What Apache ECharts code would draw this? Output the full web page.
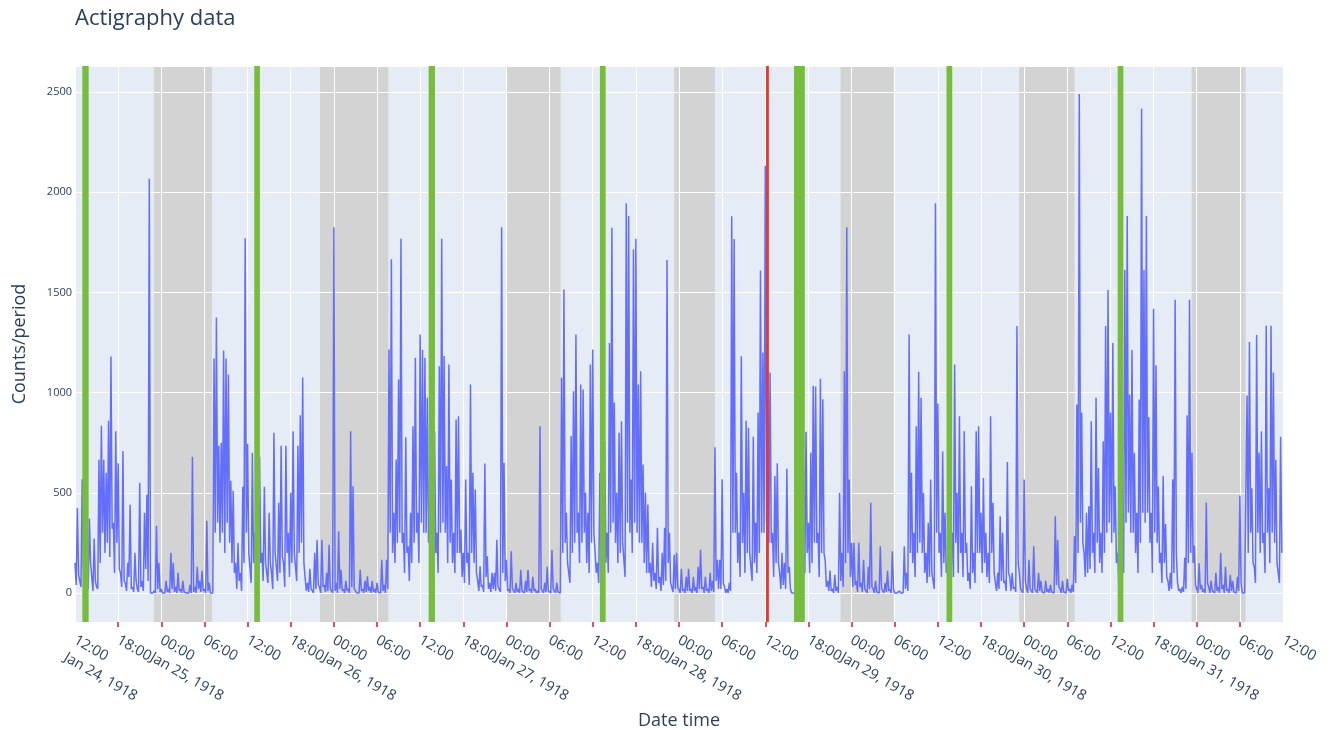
<!DOCTYPE html>
<html>
<head>
<meta charset="utf-8">
<script src="https://cdn.jsdelivr.net/npm/echarts@6/dist/echarts.min.js"></script>
<style>
html,body{margin:0;padding:0;background:#fff;}
#chart{width:1334px;height:730px;}
</style>
</head>
<body>
<div id="chart"></div>
<script>
// ---- data ----
const startUTC = Date.UTC(1918, 0, 24, 12);   // first sample, Jan 24 1918 12:00
const endUTC = Date.UTC(1918, 0, 31, 12);
const stepMinutes = 20;                          // one peak + one trough per 20 minutes
// counts at the start of each 20-minute slot
const peakCounts = [
150,424,60,567,150,260,370,80,272,30,
665,834,665,600,860,1180,350,807,647,100,
709,50,150,440,30,200,20,550,60,400,
490,2067,0,10,335,150,20,0,60,20,
200,150,30,100,20,60,10,0,40,680,
30,130,60,110,20,360,50,0,1170,1375,
735,750,1210,1170,1090,560,510,150,250,100,
530,1770,745,200,700,300,700,680,200,530,
150,400,100,800,200,450,735,150,735,300,
500,807,200,735,887,1075,157,50,120,20,
200,266,30,266,40,100,240,20,1825,50,
308,116,20,60,20,807,533,10,0,116,
20,60,83,30,60,20,50,10,166,40,
166,1215,1665,400,666,1065,1768,300,777,233,
400,832,1174,400,1290,1212,1174,974,450,17,
807,300,1132,1768,1182,633,1140,566,300,866,
882,316,200,566,200,1040,600,516,60,133,
40,646,183,50,100,100,266,30,1825,650,
166,20,208,10,50,20,116,10,60,116,
20,80,20,10,832,20,50,130,10,216,
20,50,10,1074,1515,400,150,783,1007,1290,
400,1040,1015,500,400,1140,1215,300,150,600,
0,757,300,1248,1823,950,500,799,857,250,
1945,1881,566,1715,1768,1040,1107,641,500,441,
150,250,100,325,80,200,325,1662,300,50,
191,200,30,120,20,80,120,20,80,30,
130,216,30,80,20,100,60,727,165,165,
567,30,20,50,1880,1766,600,300,1181,500,
860,825,200,780,350,900,1609,1200,2131,1110,
1100,300,584,647,100,200,150,620,130,0,
0,0,0,20,620,804,350,700,1034,1030,
300,1069,967,160,60,112,20,90,30,500,
200,1107,1825,566,250,250,60,250,50,166,
20,130,450,20,60,10,233,20,50,110,
20,208,0,0,10,0,233,100,1290,600,
300,832,1104,974,500,200,350,566,60,1945,
945,300,707,400,150,0,300,1140,500,882,
300,807,250,100,533,200,807,832,400,574,
300,200,882,450,50,100,383,300,60,654,
80,100,30,1332,100,10,566,20,166,10,
233,20,100,60,10,60,20,40,10,383,
266,20,60,10,70,20,40,283,940,2490,
900,200,400,433,857,300,974,624,300,757,
1332,1512,900,1248,533,200,10,400,1612,1881,
990,1212,700,400,965,2417,1612,1881,878,400,
1418,1137,531,200,584,344,60,100,567,1463,
50,20,30,175,887,1463,700,237,20,148,
40,20,451,30,60,10,100,30,201,40,
130,20,90,60,10,80,486,0,0,985,
1253,522,130,1288,700,807,300,1333,522,1333,
1100,665,150,780
];
// counts 10 minutes into each 20-minute slot (the dips between spikes)
const troughCounts = [
40,90,30,120,60,20,150,10,60,20,
150,300,200,250,180,320,100,250,120,30,
60,10,80,20,5,60,5,30,10,120,
60,0,0,0,20,5,0,0,5,0,
20,5,0,10,0,5,0,0,0,5,
0,20,5,10,0,10,0,0,300,350,
250,300,200,350,250,150,100,20,60,10,
150,300,200,50,150,80,200,150,60,150,
50,150,20,200,60,100,180,30,200,80,
150,200,60,200,250,150,10,5,20,0,
20,40,0,30,5,10,20,0,10,0,
20,10,0,10,0,30,20,0,0,10,
0,5,10,0,5,0,5,0,10,0,
20,300,200,150,250,300,250,100,200,60,
150,250,300,150,350,300,300,250,100,0,
200,100,300,350,300,150,250,150,100,200,
200,80,50,150,40,200,150,100,10,30,
5,80,20,5,20,10,30,5,100,60,
10,0,20,0,5,0,10,0,5,10,
0,10,0,0,20,0,5,10,0,20,
0,5,0,200,250,150,50,200,250,300,
150,250,300,150,100,250,300,100,50,100,
0,150,100,300,350,250,150,200,250,80,
350,300,200,350,300,250,250,150,100,100,
30,60,20,50,10,40,60,150,50,5,
20,30,0,10,0,10,10,0,10,0,
20,20,0,10,0,10,5,60,20,20,
50,0,0,10,300,300,150,80,250,100,
200,200,60,150,100,200,300,300,350,250,
250,80,150,150,20,40,20,100,20,0,
0,0,0,5,100,200,100,150,250,250,
80,200,200,30,10,10,0,10,0,60,
30,150,200,80,30,40,5,30,5,20,
0,20,30,0,5,0,20,0,5,10,
0,20,0,0,0,0,20,10,200,150,
80,200,250,200,100,50,80,100,20,300,
200,80,150,100,30,0,80,250,100,200,
80,200,60,20,100,50,200,200,100,150,
80,50,200,100,10,20,60,50,10,100,
10,20,5,150,20,0,60,0,20,0,
20,0,10,5,0,5,0,5,0,40,
30,0,5,0,10,0,5,50,200,350,
250,80,100,120,200,100,250,150,100,200,
300,350,250,300,150,50,0,100,350,400,
300,300,200,100,250,400,350,400,250,100,
300,250,150,50,150,80,10,20,100,200,
10,0,5,20,150,200,150,40,0,20,
5,0,50,0,10,0,10,0,20,0,
10,0,10,5,0,10,50,0,0,200,
300,150,50,300,200,250,100,300,150,300,
250,150,50,200
];
// hours after startUTC
const nightStartH = [10.98, 34.07, 60.03, 83.33, 106.47, 131.3, 155.3];
const nightEndH   = [19.05, 43.57, 67.54, 88.99, 113.88, 139.0, 162.8];
const greenStartH = [1.02, 24.93, 49.18, 73.0, 100.0, 121.2, 145.0];
const greenEndH   = [1.90, 25.72, 50.06, 73.8, 101.5, 122.0, 145.8];
const redStartH = [96.1];
const redEndH = [96.5];
const yMin = -145, yMax = 2630;
const monthNames = ['Jan','Feb','Mar','Apr','May','Jun','Jul','Aug','Sep','Oct','Nov','Dec'];

// ---- build ----
const H = 3600 * 1000;
const stepMs = stepMinutes * 60000;
const lineData = [];
peakCounts.forEach((v, i) => {
  lineData.push([startUTC + i * stepMs, v]);
  lineData.push([startUTC + i * stepMs + stepMs / 2, troughCounts[i]]);
});
const toRanges = (s, e) => s.map((a, i) => [startUTC + a * H, startUTC + e[i] * H]);

function rectRenderer(color) {
  return function (params, api) {
    const p0 = api.coord([api.value(0), yMax]);
    const p1 = api.coord([api.value(1), yMin]);
    return {
      type: 'rect',
      shape: { x: p0[0], y: p0[1], width: Math.max(p1[0] - p0[0], 1), height: p1[1] - p0[1] },
      style: { fill: color }
    };
  };
}

const chart = echarts.init(document.getElementById('chart'), null, { renderer: 'canvas' });
const FONT = '"Open Sans", "Noto Sans", sans-serif';
const TXT = '#2a3f5f';
const pad = n => (n < 10 ? '0' : '') + n;
const LH = 20;
const FS = 14.5;
const labelRich = {
  gap: { fontFamily: FONT, fontSize: FS, lineHeight: LH + 14, color: TXT },
  t: { fontFamily: FONT, fontSize: FS, lineHeight: LH, color: TXT, padding: [0, 0, 0, 4] }
};
const timeText = v => { const d = new Date(v); return pad(d.getUTCHours()) + ':' + pad(d.getUTCMinutes()); };
const dateText = v => { const d = new Date(v); return monthNames[d.getUTCMonth()] + ' ' + d.getUTCDate() + ', ' + d.getUTCFullYear(); };
const isEdge = v => v === startUTC || v === endUTC;

chart.setOption({
  animation: false,
  textStyle: { fontFamily: FONT },
  title: {
    text: 'Actigraphy data',
    left: 70, top: 3,
    textStyle: { fontFamily: FONT, fontSize: 22, fontWeight: 'normal', color: TXT }
  },
  grid: {
    left: 75, top: 66, width: 1208, height: 556,
    outerBoundsMode: 'none', containLabel: false,
    show: true, backgroundColor: '#E5ECF6', borderWidth: 0, z: 0
  },
  xAxis: [
    {
      // hour labels of the inner ticks
      type: 'value', position: 'bottom',
      min: startUTC, max: endUTC, interval: 6 * H,
      z: 2,
      name: 'Date time', nameLocation: 'middle', nameGap: 90,
      nameTextStyle: { fontFamily: FONT, fontSize: 18, color: TXT },
      axisLine: { show: false, onZero: false },
      axisTick: { show: true, length: 5, lineStyle: { color: '#dc143c', width: 1.5 } },
      splitLine: { show: true, lineStyle: { color: '#ffffff', width: 1 } },
      axisLabel: {
        rotate: -30, margin: 9, interval: 0, hideOverlap: false,
        showMinLabel: false, showMaxLabel: false,
        fontFamily: FONT, fontSize: FS, color: TXT,
        rich: labelRich,
        formatter: function (v) {
          if (isEdge(v)) return '';
          return '{gap| }\n{t|' + timeText(v) + '}\n{t| }';
        }
      }
    },
    {
      // date lines, plus the hour labels at both ends
      type: 'value', position: 'bottom',
      min: startUTC, max: endUTC, interval: 6 * H,
      z: 2,
      axisLine: { show: false, onZero: false },
      axisTick: { show: false },
      splitLine: { show: false },
      axisLabel: {
        rotate: -30, margin: 9, interval: 0, hideOverlap: false,
        showMinLabel: true, showMaxLabel: true,
        fontFamily: FONT, fontSize: FS, color: TXT,
        rich: labelRich,
        formatter: function (v) {
          const d = new Date(v);
          const line1 = isEdge(v) ? timeText(v) : ' ';
          const line2 = (d.getUTCHours() === 0 || v === startUTC) ? dateText(v) : ' ';
          if (line1 === ' ' && line2 === ' ') return '';
          return '{gap| }\n{t|' + line1 + '}\n{t|' + line2 + '}';
        }
      }
    }
  ],
  yAxis: {
    type: 'value',
    min: yMin, max: yMax,
    z: 2,
    name: 'Counts/period', nameLocation: 'middle', nameGap: 46,
    nameTextStyle: { fontFamily: FONT, fontSize: 18, color: TXT },
    axisLine: { show: false },
    axisTick: { show: false },
    splitLine: { show: true, lineStyle: { color: '#ffffff', width: 1 } },
    axisLabel: {
      fontFamily: FONT, fontSize: 11, color: TXT, margin: 3,
      showMinLabel: false, showMaxLabel: false,
      formatter: v => String(v)
    }
  },
  series: [
    {
      type: 'custom', name: 'night', z: 1, silent: true,
      renderItem: rectRenderer('#D3D3D3'),
      encode: { x: [0, 1] },
      data: toRanges(nightStartH, nightEndH)
    },
    {
      type: 'line', name: 'Counts', z: 3,
      showSymbol: false, symbol: 'none', sampling: null,
      lineStyle: { color: '#636EFA', width: 1.5 },
      data: lineData
    },
    {
      type: 'custom', name: 'green', z: 4, silent: true,
      renderItem: rectRenderer('#77BD3D'),
      encode: { x: [0, 1] },
      data: toRanges(greenStartH, greenEndH)
    },
    {
      type: 'custom', name: 'red', z: 4, silent: true,
      renderItem: rectRenderer('#E8392F'),
      encode: { x: [0, 1] },
      data: toRanges(redStartH, redEndH)
    }
  ]
});
</script>
</body>
</html>
